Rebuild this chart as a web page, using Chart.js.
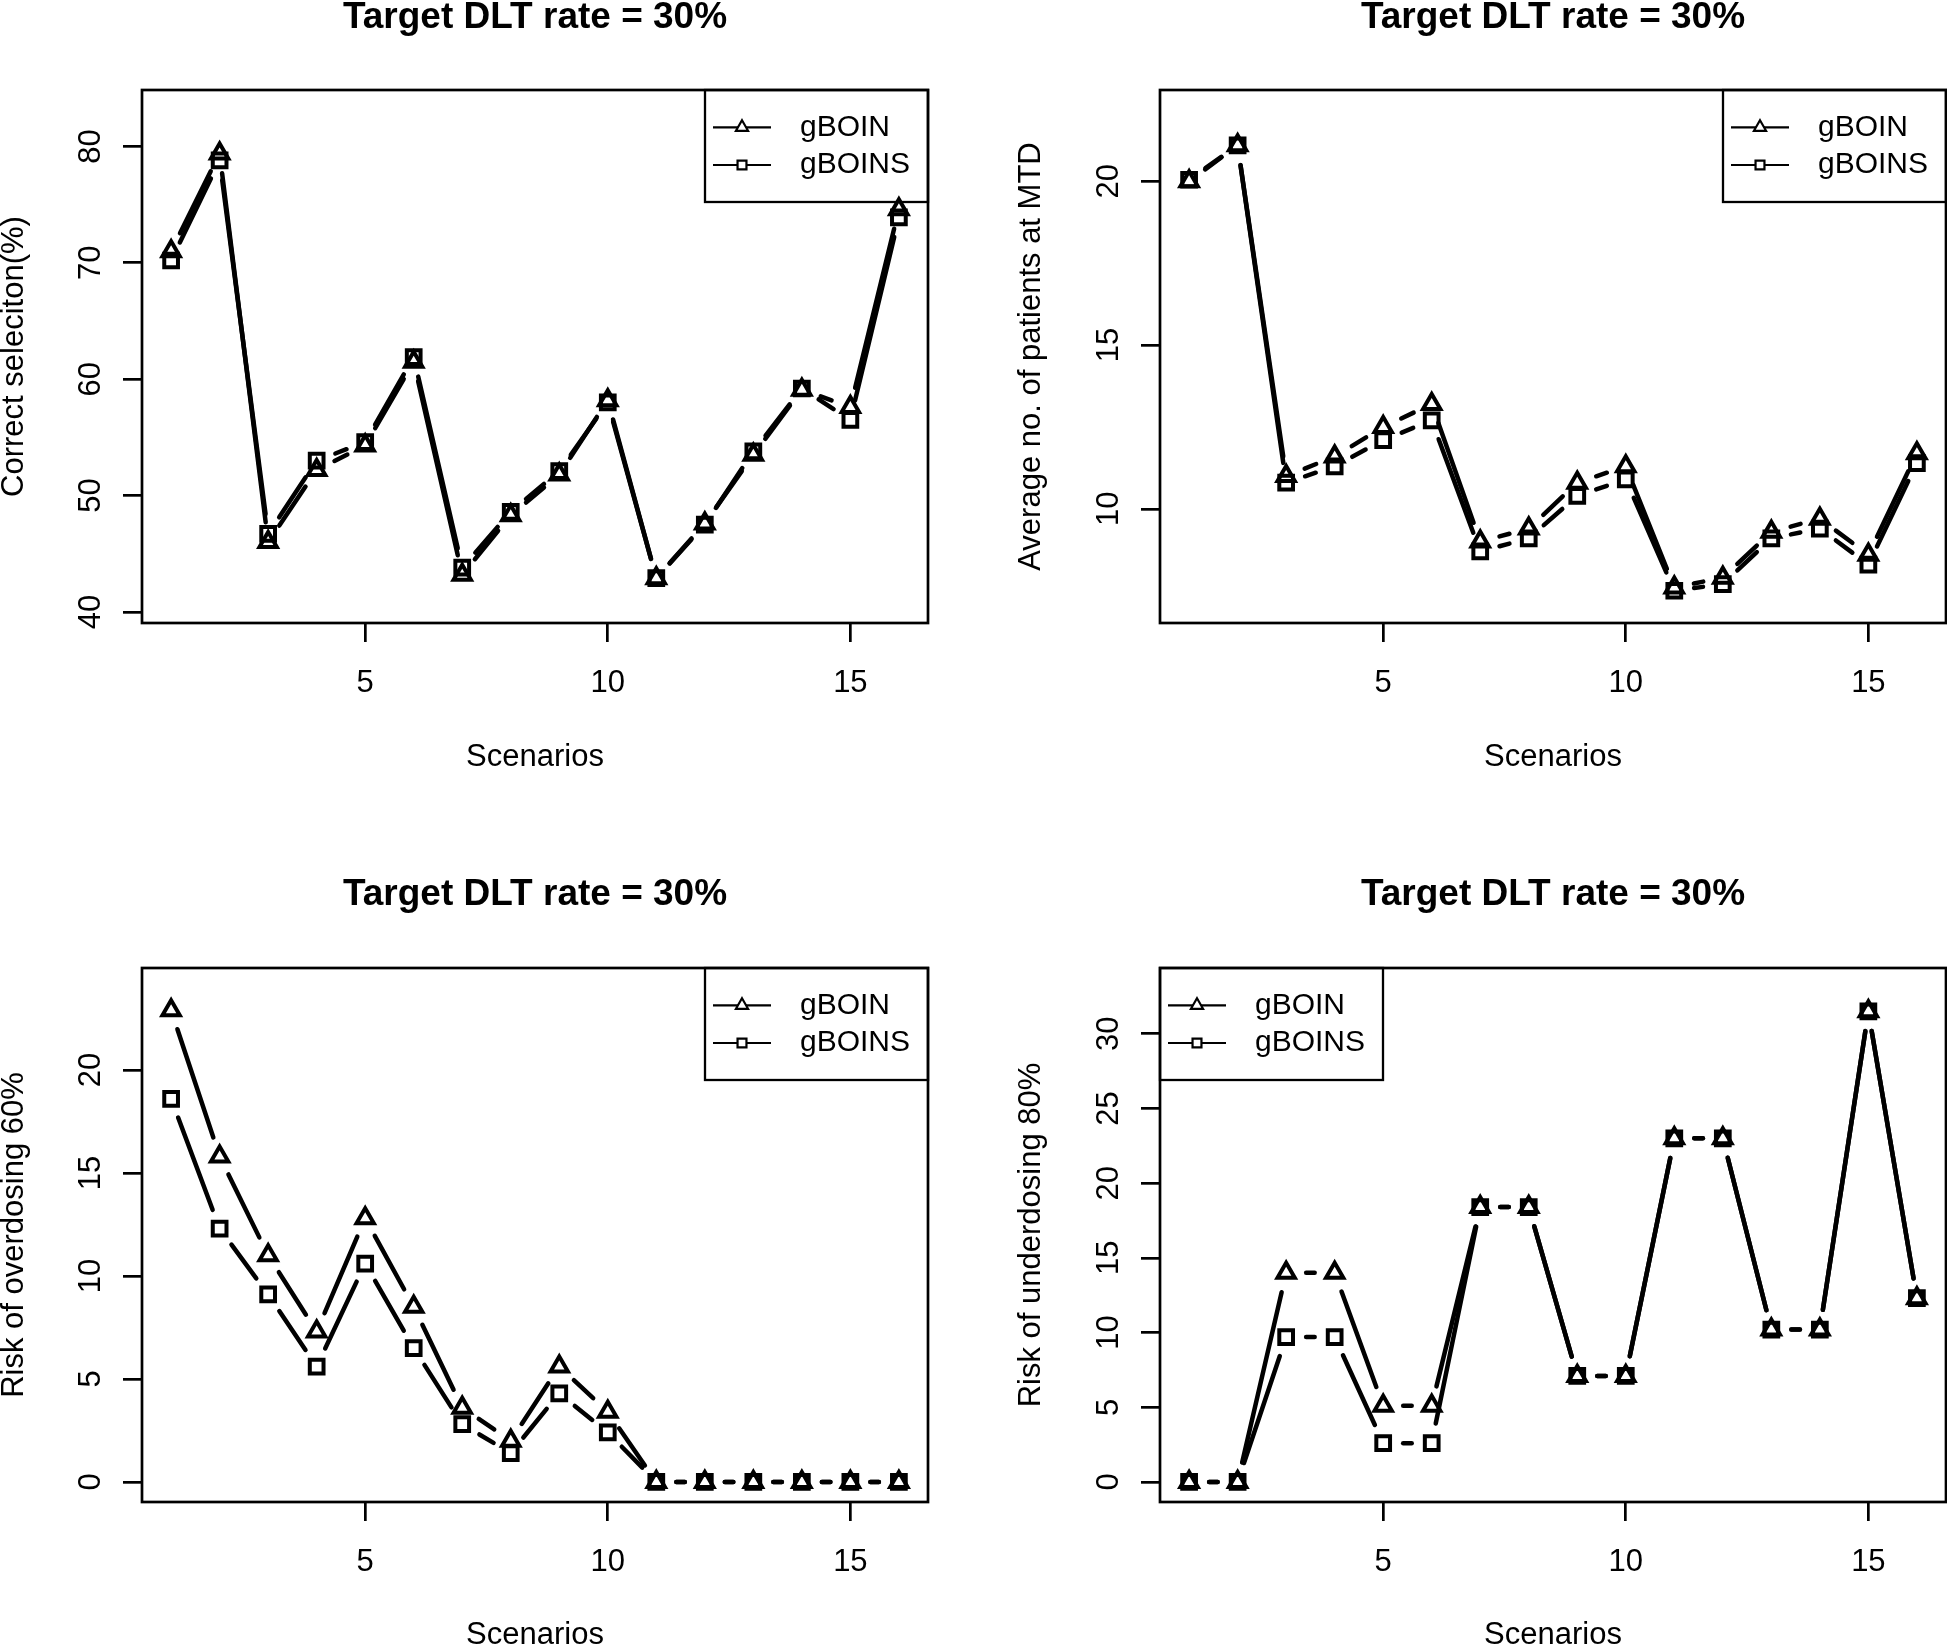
<!DOCTYPE html>
<html>
<head>
<meta charset="utf-8">
<script src="https://cdn.jsdelivr.net/npm/chart.js@4.4.0/dist/chart.umd.min.js"></script>
<style>
  html, body { margin: 0; padding: 0; background: #fff; }
  body { position: relative; width: 1947px; height: 1645px; overflow: hidden; }
  .panel { position: absolute; }
  canvas { display: block; }
</style>
</head>
<body>
<div class="panel" style="left:-20px;top:-40px"><canvas id="c1" width="994" height="862"></canvas></div>
<div class="panel" style="left:974px;top:-40px"><canvas id="c2" width="973" height="862"></canvas></div>
<div class="panel" style="left:-20px;top:822px"><canvas id="c3" width="994" height="860"></canvas></div>
<div class="panel" style="left:974px;top:822px"><canvas id="c4" width="973" height="860"></canvas></div>
<script>
// data
const scenarios = [1, 2, 3, 4, 5, 6, 7, 8, 9, 10, 11, 12, 13, 14, 15, 16];
const xTicks = [5, 10, 15];
const seriesNames = ['gBOIN', 'gBOINS'];

const selectGBOIN  = [71.0, 79.4, 46.0, 52.2, 54.3, 61.5, 43.2, 48.3, 51.8, 58.2, 42.9, 47.6, 53.5, 59.1, 57.6, 74.6];
const selectGBOINS = [70.2, 78.8, 46.7, 53.0, 54.6, 61.9, 43.8, 48.6, 52.1, 58.0, 42.9, 47.5, 53.8, 59.2, 56.5, 73.9];
const selectTicks = [40, 50, 60, 70, 80];

const mtdGBOIN  = [20.0, 21.1, 11.0, 11.6, 12.5, 13.2, 9.0, 9.4, 10.8, 11.3, 7.6, 7.9, 9.3, 9.7, 8.6, 11.7];
const mtdGBOINS = [20.05, 21.1, 10.8, 11.3, 12.1, 12.7, 8.7, 9.1, 10.4, 10.9, 7.5, 7.7, 9.1, 9.4, 8.3, 11.4];
const mtdTicks = [10, 15, 20];

const overGBOIN  = [22.9, 15.8, 11.0, 7.3, 12.8, 8.5, 3.6, 2.0, 5.6, 3.4, 0, 0, 0, 0, 0, 0];
const overGBOINS = [18.6, 12.3, 9.1, 5.6, 10.6, 6.5, 2.8, 1.4, 4.3, 2.4, 0, 0, 0, 0, 0, 0];
const overTicks = [0, 5, 10, 15, 20];

const underGBOIN  = [0, 0, 14.0, 14.0, 5.1, 5.1, 18.4, 18.4, 7.1, 7.1, 23.0, 23.0, 10.2, 10.2, 31.5, 12.3];
const underGBOINS = [0, 0, 9.7, 9.7, 2.6, 2.6, 18.4, 18.4, 7.1, 7.1, 23.0, 23.0, 10.2, 10.2, 31.5, 12.3];
const underTicks = [0, 5, 10, 15, 20, 25, 30];

const FONT = "'Liberation Sans', Arial, Helvetica, sans-serif";
Chart.defaults.font.family = FONT;
Chart.defaults.color = '#000';

const GAP = 20;

// lines of type "b": segments stop short of the points
const gapLines = {
  id: 'gapLines',
  beforeDatasetsDraw(chart) {
    const ctx = chart.ctx;
    ctx.save();
    ctx.strokeStyle = '#000';
    ctx.lineWidth = 4.5;
    ctx.lineCap = 'round';
    chart.data.datasets.forEach((ds, i) => {
      const pts = chart.getDatasetMeta(i).data;
      for (let j = 1; j < pts.length; j++) {
        const a = pts[j - 1], b = pts[j];
        const dx = b.x - a.x, dy = b.y - a.y;
        const len = Math.hypot(dx, dy);
        if (len <= 2 * GAP) continue;
        const ux = dx / len, uy = dy / len;
        ctx.beginPath();
        ctx.moveTo(a.x + ux * GAP, a.y + uy * GAP);
        ctx.lineTo(b.x - ux * GAP, b.y - uy * GAP);
        ctx.stroke();
      }
    });
    ctx.restore();
  }
};

// box, rotated y labels, legend
const rDecor = {
  id: 'rDecor',
  afterDraw(chart, args, opts) {
    const ctx = chart.ctx;
    const area = chart.chartArea;
    ctx.save();
    ctx.strokeStyle = '#000';
    ctx.lineWidth = 2.7;
    ctx.strokeRect(area.left, area.top, area.right - area.left, area.bottom - area.top);

    // y tick labels, parallel to the axis
    const y = chart.scales.y;
    ctx.fillStyle = '#000';
    ctx.font = '31px ' + FONT;
    ctx.textAlign = 'center';
    ctx.textBaseline = 'alphabetic';
    y.ticks.forEach(t => {
      ctx.save();
      ctx.translate(area.left - 42.5, y.getPixelForValue(t.value));
      ctx.rotate(-Math.PI / 2);
      ctx.fillText(String(t.value), 0, 0);
      ctx.restore();
    });

    // legend
    const w = 223, h = 112;
    const lx = opts.corner === 'left' ? area.left : area.right - w;
    const ly = area.top;
    ctx.lineWidth = 2.3;
    ctx.strokeRect(lx, ly, w, h);
    const rows = [37.3, 75];
    const styles = ['triangle', 'rect'];
    const radii = [7, 6.3];
    rows.forEach((ry, i) => {
      ctx.lineWidth = 2.2;
      ctx.beginPath();
      ctx.moveTo(lx + 8, ly + ry);
      ctx.lineTo(lx + 66, ly + ry);
      ctx.stroke();
      ctx.fillStyle = '#fff';
      Chart.helpers.drawPoint(ctx, {pointStyle: styles[i], radius: radii[i], borderWidth: 2.2}, lx + 37, ly + ry);
      ctx.fillStyle = '#000';
      ctx.font = '30px ' + FONT;
      ctx.textAlign = 'left';
      ctx.textBaseline = 'middle';
      ctx.fillText(seriesNames[i], lx + 95, ly + ry);
    });
    ctx.restore();
  }
};

function noPad(s) {
  s.paddingLeft = 0;
  s.paddingRight = 0;
  s.paddingTop = 0;
  s.paddingBottom = 0;
}

function makePanel(id, p) {
  const canvas = document.getElementById(id);
  const W = canvas.width, H = canvas.height;
  return new Chart(canvas, {
    type: 'line',
    data: {
      datasets: [
        {
          label: seriesNames[0],
          data: scenarios.map((x, i) => ({x: x, y: p.first[i]})),
          showLine: false,
          pointStyle: 'triangle',
          pointRadius: 10,
          pointBorderWidth: 4,
          pointBorderColor: '#000',
          pointBackgroundColor: 'rgba(0,0,0,0)'
        },
        {
          label: seriesNames[1],
          data: scenarios.map((x, i) => ({x: x, y: p.second[i]})),
          showLine: false,
          pointStyle: 'rect',
          pointRadius: 9.7,
          pointBorderWidth: 4,
          pointBorderColor: '#000',
          pointBackgroundColor: 'rgba(0,0,0,0)'
        }
      ]
    },
    options: {
      responsive: false,
      animation: false,
      layout: { autoPadding: false, padding: { left: 0, top: 0, bottom: 0, right: W - p.area.right } },
      plugins: {
        legend: { display: false },
        tooltip: { enabled: false },
        title: {
          display: true,
          text: 'Target DLT rate = 30%',
          fullSize: false,
          font: { size: 37, weight: 'bold', lineHeight: 1 },
          color: '#000',
          padding: { top: p.titleTop, bottom: p.area.top - 37 - p.titleTop }
        },
        rDecor: { corner: p.legend }
      },
      scales: {
        x: {
          type: 'linear',
          min: 0.4,
          max: 16.6,
          afterBuildTicks: s => { s.ticks = xTicks.map(v => ({value: v})); },
          afterFit: s => { s.height = H - p.area.bottom; noPad(s); },
          border: { display: false },
          grid: { drawOnChartArea: false, drawTicks: true, tickLength: 19, color: '#000', lineWidth: 2.7 },
          ticks: { font: { size: 31, lineHeight: 1 }, padding: 26, color: '#000', maxRotation: 0 },
          title: { display: true, text: 'Scenarios', font: { size: 31, lineHeight: 1 }, color: '#000', padding: { top: 0, bottom: p.xTitleBottom } }
        },
        y: {
          type: 'linear',
          min: p.yMin,
          max: p.yMax,
          afterBuildTicks: s => { s.ticks = p.ticks.map(v => ({value: v})); },
          afterFit: s => { s.width = p.area.left; noPad(s); },
          border: { display: false },
          grid: { drawOnChartArea: false, drawTicks: true, tickLength: 19, color: '#000', lineWidth: 2.7 },
          ticks: { display: false },
          title: { display: true, text: p.ylab, font: { size: 31, lineHeight: 1 }, color: '#000', padding: { top: p.yTitleTop, bottom: 0 } }
        }
      }
    },
    plugins: [gapLines, rDecor]
  });
}

makePanel('c1', {
  first: selectGBOIN, second: selectGBOINS, ticks: selectTicks,
  yMin: 39.05, yMax: 84.85, ylab: 'Correct seleciton(%)', legend: 'right',
  area: { left: 162, right: 948, top: 130, bottom: 663 },
  titleTop: 39.5, xTitleBottom: 49, yTitleTop: 18.5
});
makePanel('c2', {
  first: mtdGBOIN, second: mtdGBOINS, ticks: mtdTicks,
  yMin: 6.515, yMax: 22.79, ylab: 'Average no. of patients at MTD', legend: 'right',
  area: { left: 186, right: 972, top: 130, bottom: 663 },
  titleTop: 39.5, xTitleBottom: 49, yTitleTop: 42
});
makePanel('c3', {
  first: overGBOIN, second: overGBOINS, ticks: overTicks,
  yMin: -0.976, yMax: 24.95, ylab: 'Risk of overdosing 60%', legend: 'right',
  area: { left: 162, right: 948, top: 146, bottom: 680 },
  titleTop: 54.5, xTitleBottom: 31, yTitleTop: 18.5
});
makePanel('c4', {
  first: underGBOIN, second: underGBOINS, ticks: underTicks,
  yMin: -1.34, yMax: 34.4, ylab: 'Risk of underdosing 80%', legend: 'left',
  area: { left: 186, right: 972, top: 146, bottom: 680 },
  titleTop: 54.5, xTitleBottom: 31, yTitleTop: 42
});
</script>
</body>
</html>
